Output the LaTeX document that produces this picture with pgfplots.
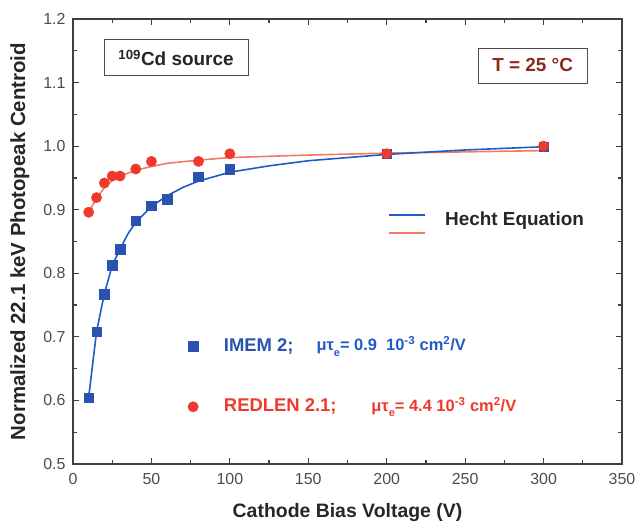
\documentclass[border=0pt]{standalone}
\usepackage{pgfplots}
\pgfplotsset{compat=1.18}
\usepackage{fontspec}
\setmainfont{Liberation Sans}

\definecolor{imemblue}{HTML}{2A52B0}
\definecolor{fitblue}{HTML}{1F5CC8}
\definecolor{redmark}{HTML}{EE3A2C}
\definecolor{fitred}{HTML}{F27A66}
\definecolor{tempred}{HTML}{8E2A1C}
\definecolor{axisgray}{HTML}{404040}

\begin{document}
\begin{tikzpicture}
\begin{axis}[
    name=ax,
    scale only axis,
    width=549bp, height=445bp,
    xmin=0, xmax=350,
    ymin=0.5, ymax=1.2,
    xtick distance=50,
    ytick={0.5,0.6,...,1.21},
    minor x tick num=1,
    minor y tick num=1,
    tick align=inside,
    major tick length=6bp,
    minor tick length=4bp,
    axis line style={axisgray, line width=1.4bp},
    every tick/.style={axisgray, line width=1.2bp},
    xlabel={\bfseries Cathode Bias Voltage (V)},
    ylabel={\bfseries Normalized 22.1 keV Photopeak Centroid},
    label style={text=black!85},
    xlabel style={font=\fontsize{19.5}{21}\selectfont, yshift=-12bp},
    ylabel style={font=\fontsize{20.5}{22}\selectfont, yshift=7bp},
    tick label style={font=\fontsize{16}{18}\selectfont, text=black!70},
    xticklabel style={yshift=-6bp},
    yticklabel style={xshift=-4bp, /pgf/number format/fixed, /pgf/number format/fixed zerofill, /pgf/number format/precision=1},
    /pgf/number format/assume math mode=true,
    clip=false,
]

% Hecht fits
\addplot[fitred, line width=1.6bp] coordinates {
    (10,0.896) (15,0.918) (20,0.935) (25,0.946) (30,0.953) (40,0.962)
    (50,0.968) (60,0.973) (80,0.978) (100,0.982) (150,0.986) (200,0.989)
    (250,0.991) (300,0.993)
};
\addplot[fitblue, line width=1.6bp] coordinates {
    (10,0.605) (15,0.708) (20,0.768) (25,0.812) (30,0.838) (35,0.862)
    (40,0.880) (50,0.905) (60,0.922) (70,0.935) (80,0.945) (100,0.959)
    (125,0.969) (150,0.977) (200,0.987) (250,0.994) (300,0.999)
};

% IMEM 2
\addplot[only marks, mark=square*, mark size=4.8bp, imemblue] coordinates {
    (10,0.604) (15,0.708) (20,0.767) (25,0.813) (30,0.838) (40,0.883)
    (50,0.906) (60,0.917) (80,0.952) (100,0.964) (200,0.988) (300,0.999)
};
% REDLEN 2.1
\addplot[only marks, mark=*, mark size=5.2bp, redmark] coordinates {
    (10,0.896) (15,0.919) (20,0.942) (25,0.953) (30,0.953) (40,0.964)
    (50,0.976) (80,0.976) (100,0.988) (200,0.988) (300,1.0)
};

% legend symbols
\addplot[only marks, mark=square*, mark size=4.8bp, imemblue] coordinates {(76.6,0.685)};
\addplot[only marks, mark=*, mark size=5.2bp, redmark] coordinates {(76.6,0.590)};
\addplot[fitblue, line width=1.6bp] coordinates {(201.7,0.892) (224.7,0.892)};
\addplot[fitred, line width=1.6bp] coordinates {(201.7,0.863) (224.7,0.863)};

\node[anchor=west, font=\fontsize{19}{21}\selectfont\bfseries, text=black!85]
    at (axis cs:235,0.883) {Hecht Equation};

\node[anchor=west, font=\fontsize{18.5}{20}\selectfont\bfseries, text=imemblue]
    at (axis cs:94,0.685) {IMEM 2;};
\node[anchor=west, font=\fontsize{16.5}{18}\selectfont\bfseries, text=fitblue]
    at (axis cs:153,0.685) {μτ\raisebox{-0.6ex}{\fontsize{11}{12}\selectfont e}= 0.9\ \ 10\textsuperscript{-3} cm\textsuperscript{2}/V};
\node[anchor=west, font=\fontsize{18.5}{20}\selectfont\bfseries, text=redmark]
    at (axis cs:94,0.590) {REDLEN 2.1;};
\node[anchor=west, font=\fontsize{16.5}{18}\selectfont\bfseries, text=redmark]
    at (axis cs:188,0.590) {μτ\raisebox{-0.6ex}{\fontsize{11}{12}\selectfont e}= 4.4 10\textsuperscript{-3} cm\textsuperscript{2}/V};

% boxes
\node[draw=black!70, line width=0.8bp, fill=white, minimum width=144bp, minimum height=36bp,
      font=\fontsize{19}{21}\selectfont\bfseries, text=black!85]
    at (axis cs:65.7,1.139) {\textsuperscript{109}Cd source};
\node[draw=black!70, line width=0.8bp, fill=white, minimum width=109bp, minimum height=35bp,
      font=\fontsize{19}{21}\selectfont\bfseries, text=tempred]
    at (axis cs:293,1.127) {T = 25 °C};
\end{axis}
\pgfresetboundingbox
\path ([shift={(-73bp,-59bp)}]ax.south west) rectangle ([shift={(14bp,19bp)}]ax.north east);
\end{tikzpicture}
\end{document}
